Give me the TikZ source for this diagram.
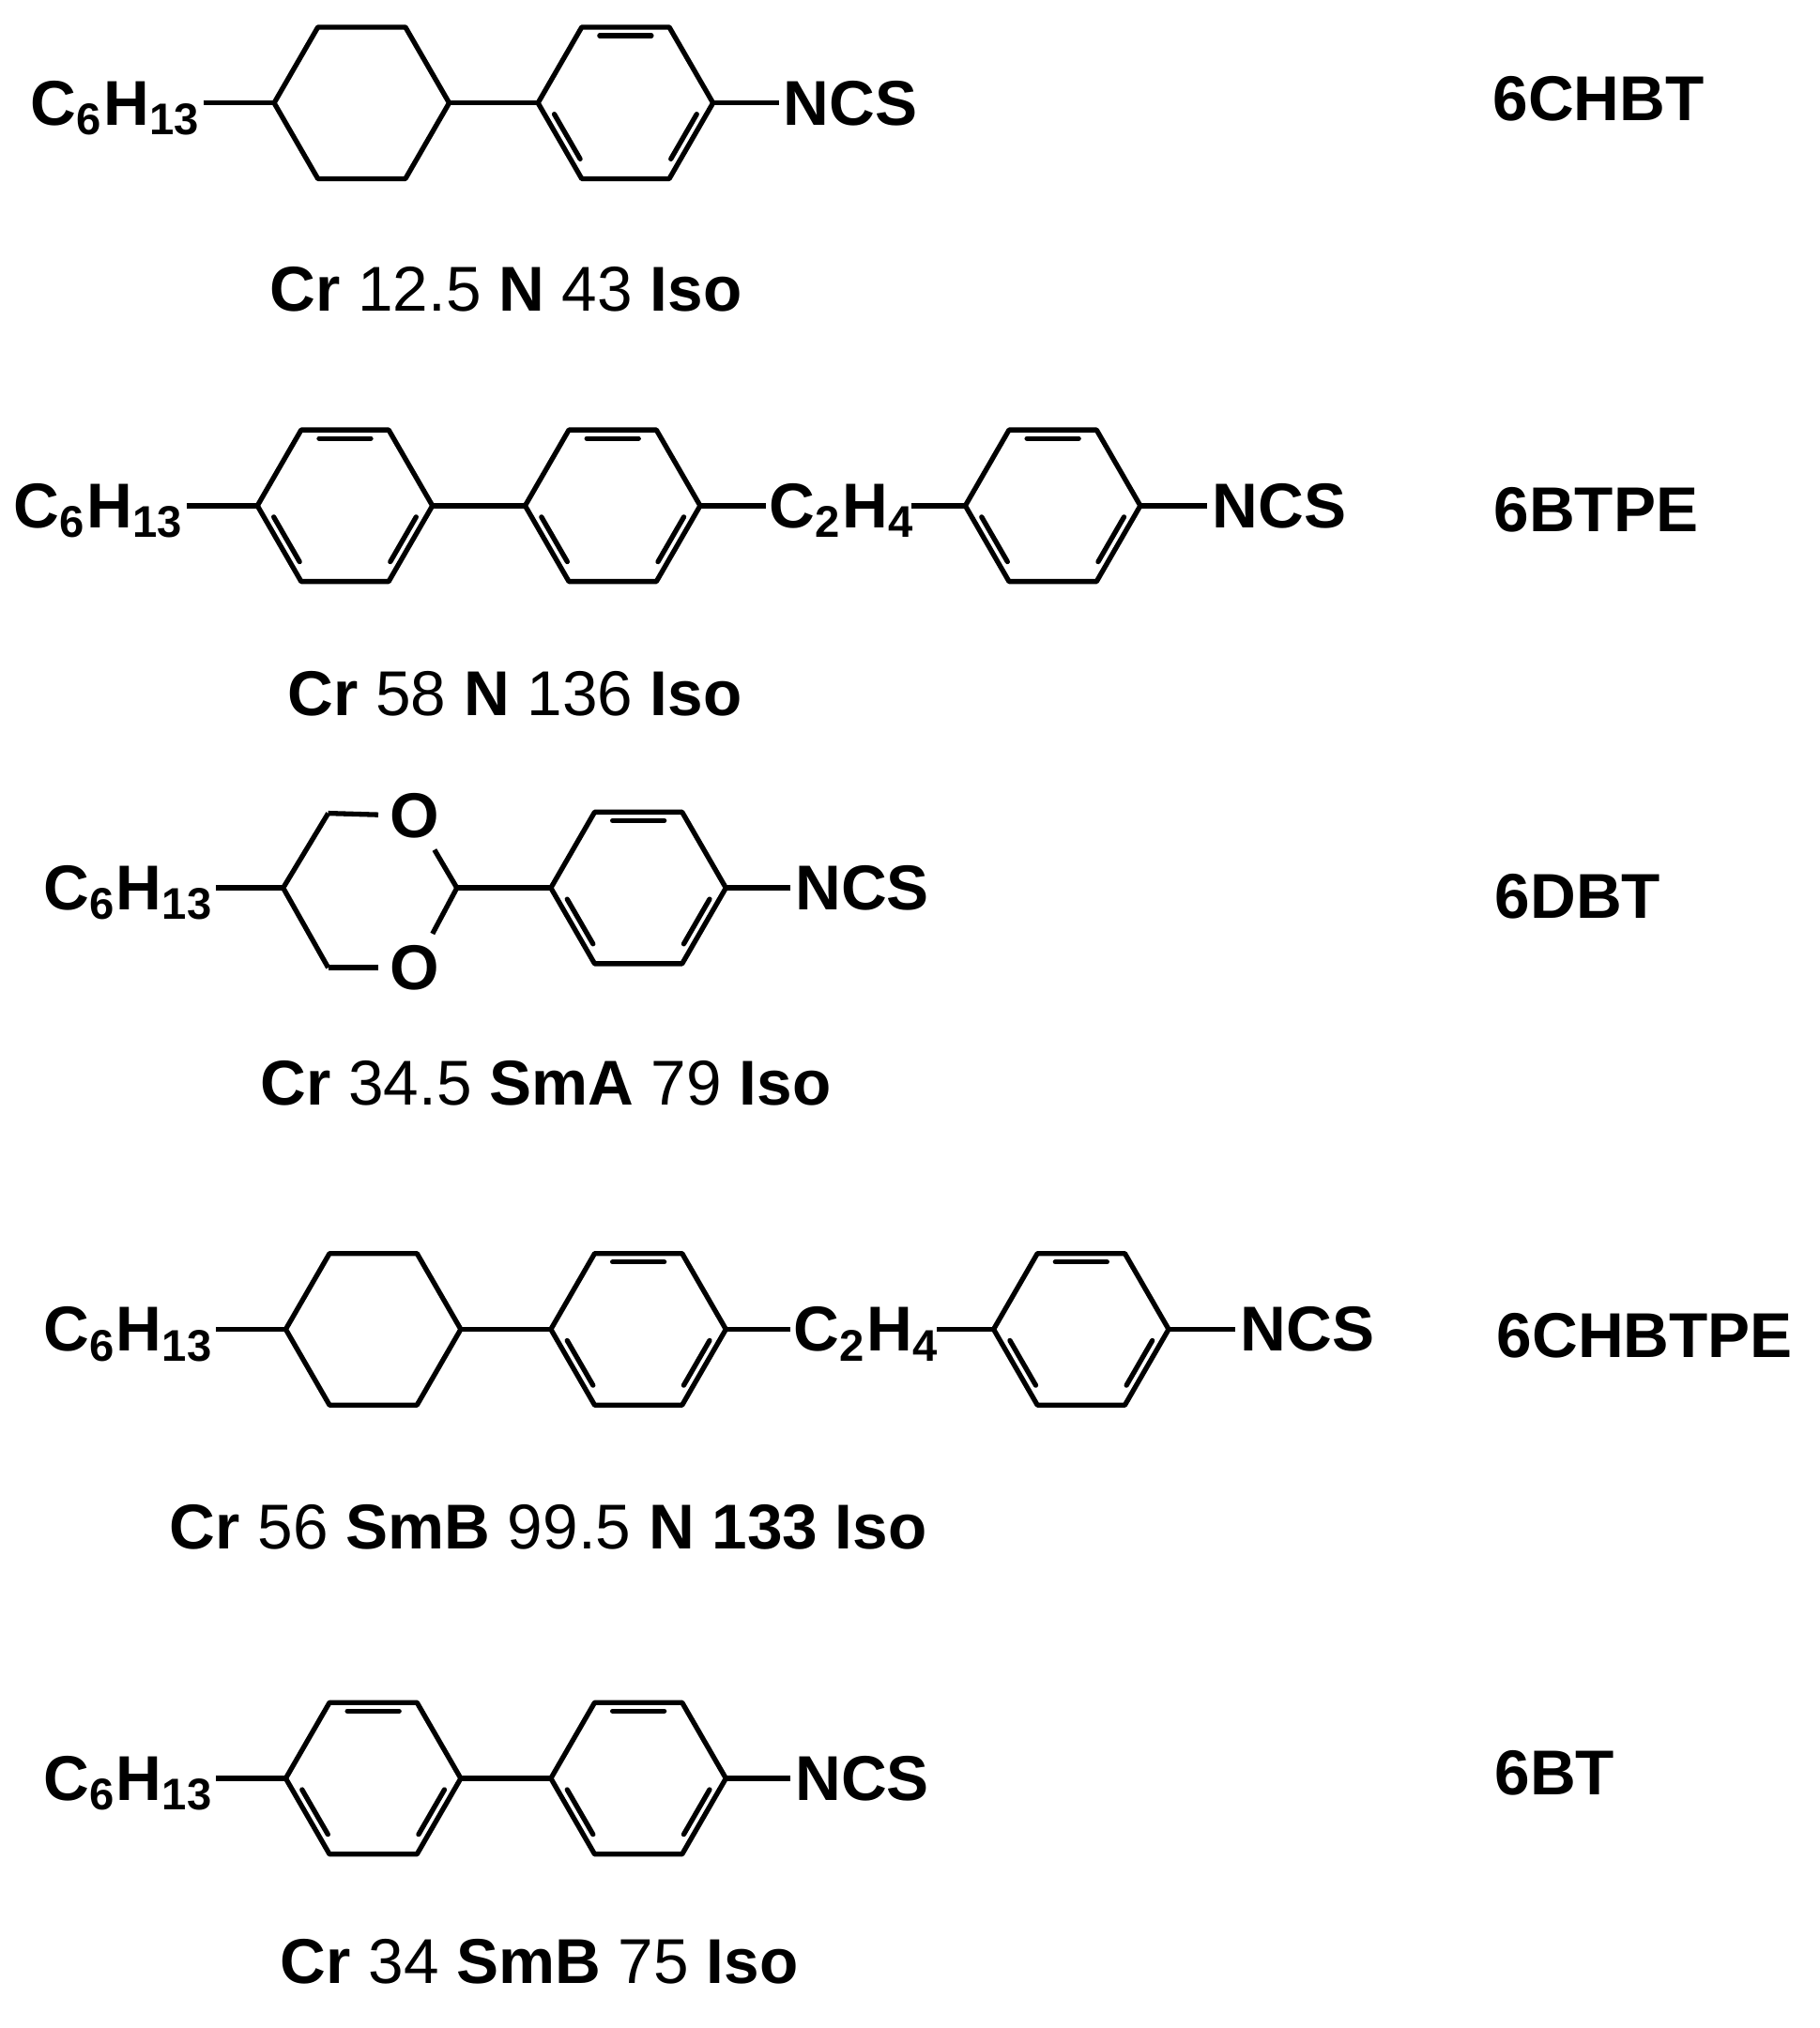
\documentclass[tikz,border=0pt]{standalone}
\usepackage{fontspec}
\setmainfont{Liberation Sans}
\begin{document}
\begin{tikzpicture}[x=0.01cm,y=-0.01cm,line width=1.1pt,line join=round,
  t/.style={font=\fontsize{14}{16}\selectfont\bfseries,inner sep=0pt},
  ph/.style={font=\fontsize{14}{16}\selectfont,inner sep=0pt,anchor=base},
  pics/hexa/.style={code={
    \foreach \a in {0,60,...,300}{\coordinate (-v\a) at (\a:68);}
    \draw (-v0)--(-v60)--(-v120)--(-v180)--(-v240)--(-v300)--cycle;}},
  pics/benz/.style={code={
    \foreach \a in {0,60,...,300}{\coordinate (-v\a) at (\a:68);}
    \draw (-v0)--(-v60)--(-v120)--(-v180)--(-v240)--(-v300)--cycle;
    \foreach \a in {0,120,240}{\draw[line cap=round] (\a+9:56)--(\a+51:56);}}}]
\useasboundingbox (0,0) rectangle (1414,1576);
% Row 1
\node[t,anchor=base east] (a1) at (158,97) {C$_{\mathbf 6}$H$_{\mathbf{13}}$};
\pic (h1) at (281,80) {hexa};
\pic (b1) at (486,80) {benz};
\node[t,anchor=base west] (n1) at (607,97) {NCS};
\coordinate (a1e) at (158,80); \coordinate (n1w) at (605,80);
\draw (a1e)--(h1-v180); \draw (h1-v0)--(b1-v180); \draw (b1-v0)--(n1w);
\node[t] (l1) at (1242,77) {6CHBT};
\node[ph] (p1) at (393,242) {\textbf{Cr} 12.5 \textbf{N} 43 \textbf{Iso}};
% Row 2
\node[t,anchor=base east] (a2) at (145,410) {C$_{\mathbf 6}$H$_{\mathbf{13}}$};
\pic (b2) at (268,393) {benz};
\pic (b3) at (476,393) {benz};
\node[t,anchor=base west] (c2) at (596,410) {C$_{\mathbf 2}$H$_{\mathbf 4}$};
\pic (b4) at (818,393) {benz};
\node[t,anchor=base west] (n2) at (940,410) {NCS};
\coordinate (a2e) at (145,393); \coordinate (c2w) at (595,393);
\coordinate (c2e) at (708,393); \coordinate (n2w) at (938,393);
\draw (a2e)--(b2-v180); \draw (b2-v0)--(b3-v180); \draw (b3-v0)--(c2w);
\draw (c2e)--(b4-v180); \draw (b4-v0)--(n2w);
\node[t] (l2) at (1240,396) {6BTPE};
\node[ph] (p2) at (400,556) {\textbf{Cr} 58 \textbf{N} 136 \textbf{Iso}};
% Row 3
\node[t,anchor=base east] (a3) at (168,707) {C$_{\mathbf 6}$H$_{\mathbf{13}}$};
\coordinate (d0) at (220,690); \coordinate (d1) at (255,632);
\coordinate (d3) at (355,690); \coordinate (d5) at (255,752);
\node[t,inner sep=2pt] (o1) at (322,634) {O};
\node[t,inner sep=2pt] (o2) at (322,752) {O};
\draw (d1)--(d0)--(d5); \draw (d1)--(o1); \draw (d5)--(o2);
\draw (o1)--(d3); \draw (o2)--(d3);
\pic (b5) at (496,690) {benz};
\node[t,anchor=base west] (n3) at (616,707) {NCS};
\coordinate (a3e) at (168,690); \coordinate (n3w) at (614,690);
\draw (a3e)--(d0); \draw (d3)--(b5-v180); \draw (b5-v0)--(n3w);
\node[t] (l3) at (1226,697) {6DBT};
\node[ph] (p3) at (424,859) {\textbf{Cr} 34.5 \textbf{SmA} 79 \textbf{Iso}};
% Row 4
\node[t,anchor=base east] (a4) at (168,1050) {C$_{\mathbf 6}$H$_{\mathbf{13}}$};
\pic (h4) at (290,1033) {hexa};
\pic (b6) at (496,1033) {benz};
\node[t,anchor=base west] (c4) at (615,1050) {C$_{\mathbf 2}$H$_{\mathbf 4}$};
\pic (b7) at (840,1033) {benz};
\node[t,anchor=base west] (n4) at (962,1050) {NCS};
\coordinate (a4e) at (168,1033); \coordinate (c4w) at (614,1033);
\coordinate (c4e) at (728,1033); \coordinate (n4w) at (960,1033);
\draw (a4e)--(h4-v180); \draw (h4-v0)--(b6-v180); \draw (b6-v0)--(c4w);
\draw (c4e)--(b7-v180); \draw (b7-v0)--(n4w);
\node[t] (l4) at (1278,1038) {6CHBTPE};
\node[ph] (p4) at (426,1204) {\textbf{Cr} 56 \textbf{SmB} 99.5 \textbf{N 133 Iso}};
% Row 5
\node[t,anchor=base east] (a5) at (168,1399) {C$_{\mathbf 6}$H$_{\mathbf{13}}$};
\pic (b8) at (290,1382) {benz};
\pic (b9) at (496,1382) {benz};
\node[t,anchor=base west] (n5) at (616,1399) {NCS};
\coordinate (a5e) at (168,1382); \coordinate (n5w) at (614,1382);
\draw (a5e)--(b8-v180); \draw (b8-v0)--(b9-v180); \draw (b9-v0)--(n5w);
\node[t] (l5) at (1208,1378) {6BT};
\node[ph] (p5) at (419,1541) {\textbf{Cr} 34 \textbf{SmB} 75 \textbf{Iso}};
\end{tikzpicture}
\end{document}
